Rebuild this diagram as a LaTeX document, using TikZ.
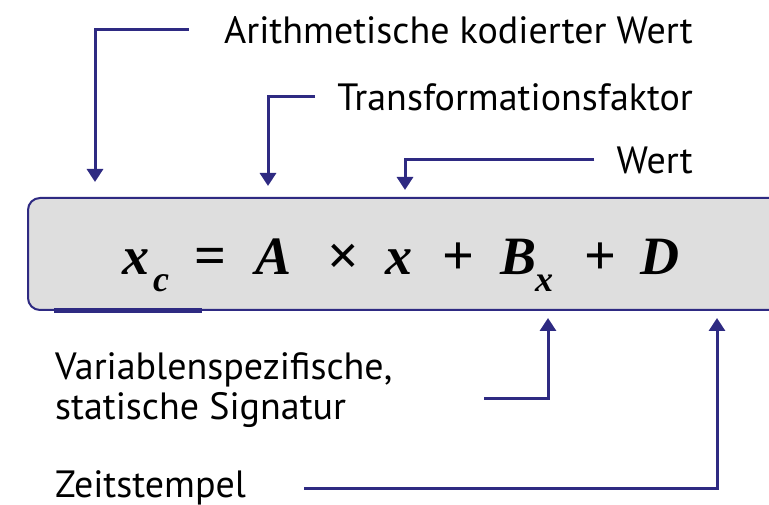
\documentclass[tikz,border=0pt]{standalone}
\usepackage{fontspec}
\setmainfont{PT Sans}
\newfontfamily\formelfont{Liberation Serif}
\usetikzlibrary{positioning,arrows.meta}
\definecolor{pfeilblau}{HTML}{2E2A82}
\definecolor{kastengrau}{HTML}{DEDEDE}
\tikzset{
  pfeil/.style={draw=pfeilblau,line width=3pt,-{Triangle[width=16pt,length=13pt]}},
  label/.style={inner sep=0pt,font=\fontsize{38}{40}\selectfont},
  symbol/.style={inner sep=0pt,anchor=base west,font=\formelfont\bfseries\itshape\fontsize{54}{60}\selectfont},
  index/.style={symbol,font=\formelfont\bfseries\itshape\fontsize{36}{40}\selectfont},
  operator/.style={symbol,font=\formelfont\bfseries\fontsize{56}{60}\selectfont},
}
\begin{document}
\begin{tikzpicture}[x=1pt,y=-1pt]
\useasboundingbox (0,0) rectangle (769,505);
% Kasten mit Formel
\draw[pfeilblau,line width=2pt,fill=kastengrau,rounded corners=12pt] (28,198) rectangle (800,310);
\draw[pfeilblau,line width=5pt] (54,311) -- (202,311);
\foreach \n/\xx/\yy/\art/\sym in {1/122/275/symbol/x, 2/153/292/index/c, 3/194/275/operator/=,
    4/255/275/symbol/A, 5/327/275/operator/\texttimes, 6/385/275/symbol/x, 7/442/275/operator/+,
    8/500/275/symbol/B, 9/535/292/index/x, 10/584/275/operator/+, 11/640/275/symbol/D}
  {\node[\art] (formel-\n) at (\xx,\yy) {\sym};}
% Beschriftungen
\node[label,anchor=east] (wertarith) at (693,30) {Arithmetische kodierter Wert};
\node[label,anchor=east] (faktor) at (693,97) {Transformationsfaktor};
\node[label,anchor=east] (wert) at (693,160) {Wert};
\node[label,anchor=west,align=left] (signatur) at (55,390) {Variablenspezifische,\\statische Signatur};
\node[label,anchor=west] (zeit) at (55,488) {Zeitstempel};
% Pfeilspitzen
\coordinate (zielA) at (95,182);
\coordinate (zielF) at (268,186);
\coordinate (zielW) at (405,190);
\coordinate (zielB) at (548,318);
\coordinate (zielD) at (717,318);
\draw[pfeil] ([xshift=-35pt]wertarith.west) -| (zielA);
\draw[pfeil] ([xshift=-22pt]faktor.west) -| (zielF);
\draw[pfeil] ([xshift=-22pt]wert.west) -| (zielW);
\coordinate (startB) at (484,398);
\draw[pfeil] (startB) -| (zielB);
\draw[pfeil] ([xshift=58pt]zeit.east) -| (zielD);
\end{tikzpicture}
\end{document}
